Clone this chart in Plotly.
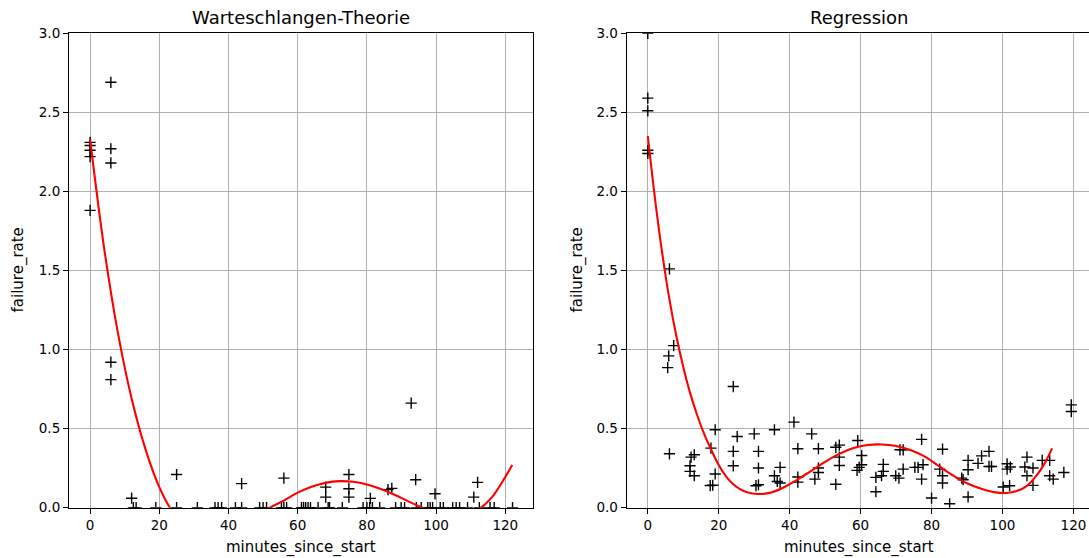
import plotly.graph_objects as go

# ---------------- data ----------------
wt_minutes = [0, 0, 0, 0, 0,
              6, 6, 6, 6, 6,
              12, 12.5, 13.3, 19, 25, 25, 31, 36.1, 37, 38, 42, 43.8, 43.8,
              49, 50, 51, 55.3, 56, 56, 56.8, 61.1, 61.7, 62.3, 63, 63.7, 65.9,
              68.1, 68.1, 68.8, 69.2, 72.9, 74.8, 74.8, 74.8, 78.9, 80, 80.8, 81, 81.6,
              83.7, 86.1, 87.2, 88.3, 89.9, 90.9, 92.8, 94.1, 94.3, 95.7, 97.6, 98.3, 99,
              99.7, 101.2, 102.1, 104.8, 105.8, 106.8, 109.1, 110.9, 112, 112.5, 115.6,
              116.8, 122.1]
wt_rate = [2.31, 2.29, 2.26, 2.22, 1.88,
           2.69, 2.27, 2.18, 0.92, 0.81,
           0.06, 0, 0, 0, 0.21, 0, 0, 0, 0, 0, 0, 0.152, 0,
           0, 0, 0, 0, 0.187, 0, 0, 0, 0, 0, 0, 0, 0,
           0.13, 0.067, 0, 0, 0, 0.21, 0.12, 0.067, 0, 0, 0, 0.059, 0,
           0, 0.114, 0.122, 0, 0, 0, 0.661, 0.177, 0, 0, 0, 0, 0,
           0.088, 0, 0, 0, 0, 0, 0, 0.067, 0.16, 0, 0,
           0, 0]

reg_minutes = [0, 0, 0, 0, 0,
               6.1, 5.6, 5.9, 7.3, 6.1,
               12.2, 13.1, 11.9, 11.9, 13.1,
               19.0, 17.8, 19.0, 17.6, 18.3,
               24.1, 25.2, 24.1, 24.1,
               30.0, 31.2, 31.2, 30.5, 31.2,
               35.7, 35.7, 37.3, 37.3, 36.5,
               41.2, 42.3, 42.3, 42.3,
               46.2, 48.1, 48.1, 48.1, 47.1,
               53.0, 54.0, 54.0, 54.0, 53.0,
               59.2, 60.3, 60.3, 59.6, 59.0,
               64.3, 64.3, 66.4, 66.4, 65.9,
               71.1, 72.0, 72.0, 69.9, 70.8,
               77.2, 75.3, 76.2, 77.6, 77.2,
               80.0, 83.1, 82.3, 83.1, 83.1, 85.1,
               88.5, 88.9, 90.3, 90.3, 90.3,
               93.1, 94.1, 96.2, 96.2, 96.9,
               100.2, 101.3, 101.3, 102.2, 102.0,
               106.9, 106.3, 106.9, 108.6, 108.6,
               111.2, 113.3, 113.3, 114.3, 117.3, 119.4, 119.4]
reg_rate = [3.0, 2.59, 2.51, 2.26, 2.24,
            1.51, 0.886, 0.96, 1.025, 0.341,
            0.32, 0.335, 0.265, 0.23, 0.202,
            0.493, 0.377, 0.213, 0.14, 0.142,
            0.766, 0.45, 0.356, 0.265,
            0.467, 0.356, 0.251, 0.139, 0.145,
            0.493, 0.202, 0.255, 0.156, 0.166,
            0.541, 0.373, 0.194, 0.162,
            0.467, 0.373, 0.251, 0.223, 0.181,
            0.382, 0.396, 0.32, 0.267, 0.148,
            0.425, 0.33, 0.272, 0.255, 0.236,
            0.192, 0.101, 0.274, 0.23, 0.202,
            0.366, 0.366, 0.244, 0.202, 0.187,
            0.432, 0.255, 0.255, 0.272, 0.181,
            0.061, 0.37, 0.244, 0.202, 0.156, 0.025,
            0.187, 0.177, 0.299, 0.24, 0.068,
            0.28, 0.328, 0.356, 0.261, 0.261,
            0.131, 0.278, 0.244, 0.257, 0.139,
            0.32, 0.257, 0.202, 0.251, 0.141,
            0.299, 0.299, 0.202, 0.181, 0.223, 0.65, 0.608]

# fitted curves
wt_curve_x = [0, 4, 8, 12, 16, 20, 24, 28, 32, 36, 40, 44, 48, 52, 56, 60, 64, 68,
              72, 76, 80, 84, 88, 92, 96, 100, 104, 108, 112, 116, 120, 122]
wt_curve_y = [2.33, 1.65, 1.11, 0.69, 0.37, 0.13, -0.03, -0.11, -0.155, -0.162, -0.142,
              -0.103, -0.054, 0.0, 0.045, 0.095, 0.132, 0.157, 0.168, 0.164, 0.147,
              0.118, 0.082, 0.040, 0.0, -0.034, -0.053, -0.050, -0.015, 0.062, 0.194, 0.27]

reg_curve_x = [0, 2, 4, 6, 8, 10, 12, 14, 16, 18, 20, 22, 24, 26, 28, 31, 34, 38, 42,
               46, 50, 54, 58, 62, 66, 70, 74, 78, 82, 86, 90, 94, 98, 101, 104, 107,
               110, 112, 114]
reg_curve_y = [2.35, 1.96, 1.62, 1.33, 1.09, 0.89, 0.72, 0.58, 0.46, 0.36, 0.27, 0.20,
               0.15, 0.118, 0.098, 0.087, 0.092, 0.125, 0.175, 0.232, 0.29, 0.34, 0.378,
               0.397, 0.40, 0.39, 0.365, 0.325, 0.265, 0.205, 0.155, 0.12, 0.097, 0.093,
               0.105, 0.14, 0.215, 0.285, 0.375]

titles = ["Warteschlangen-Theorie", "Regression"]
x_label = "minutes_since_start"
y_label = "failure_rate"
x_ticks = [0, 20, 40, 60, 80, 100, 120]
y_ticks = [0.0, 0.5, 1.0, 1.5, 2.0, 2.5, 3.0]

# ---------------- layout geometry (pixels) ----------------
W, H = 1089, 558
FONT = "DejaVu Sans"


def px_x(p):
    return p / W


def px_y(p):
    return 1 - p / H


fig = go.Figure()

marker = dict(symbol="cross-thin", size=8, line=dict(width=1.4, color="black"), color="black")

fig.add_trace(go.Scatter(x=wt_minutes, y=wt_rate, mode="markers", marker=marker,
                         xaxis="x", yaxis="y", showlegend=False, cliponaxis=True))
fig.add_trace(go.Scatter(x=wt_curve_x, y=wt_curve_y, mode="lines",
                         line=dict(color="#ff0000", width=2.1, shape="spline", smoothing=1.0),
                         xaxis="x", yaxis="y", showlegend=False))
fig.add_trace(go.Scatter(x=reg_minutes, y=reg_rate, mode="markers", marker=marker,
                         xaxis="x2", yaxis="y2", showlegend=False, cliponaxis=True))
fig.add_trace(go.Scatter(x=reg_curve_x, y=reg_curve_y, mode="lines",
                         line=dict(color="#ff0000", width=2.1, shape="spline", smoothing=1.0),
                         xaxis="x2", yaxis="y2", showlegend=False))

axis_common = dict(
    showgrid=True, gridcolor="#b0b0b0", gridwidth=1.1,
    zeroline=False, showline=True, linecolor="black", linewidth=1.1,
    ticks="outside", ticklen=5, tickwidth=1.1, tickcolor="black",
    tickfont=dict(family=FONT, size=13.5, color="black"),
    automargin=False,
)

y_dom = [px_y(507.7), px_y(33.3)]

fig.update_layout(
    template="none",
    width=W, height=H,
    margin=dict(l=0, r=0, t=0, b=0, pad=0, autoexpand=False),
    paper_bgcolor="white", plot_bgcolor="white",
    xaxis=dict(domain=[px_x(69), px_x(533.3)], range=[-6.1, 128.1], tickvals=x_ticks,
               anchor="y", mirror=True, **axis_common),
    yaxis=dict(domain=y_dom, range=[0, 3.0], tickvals=y_ticks, tickformat=".1f",
               anchor="x", mirror=True, **axis_common),
    xaxis2=dict(domain=[px_x(626.7), 1.0], range=[-5.95, 124.39], tickvals=x_ticks,
                anchor="y2", mirror=True, **axis_common),
    yaxis2=dict(domain=y_dom, range=[0, 3.0], tickvals=y_ticks, tickformat=".1f",
                anchor="x2", mirror=False, **axis_common),
)

annotations = []
centers = [(69 + 533.3) / 2, (626.7 + 1091) / 2]
ylab_x = [18, 577]
for i in range(2):
    annotations.append(dict(text=titles[i], x=px_x(centers[i]), y=px_y(18), xref="paper",
                            yref="paper", xanchor="center", yanchor="middle", showarrow=False,
                            font=dict(family=FONT, size=18, color="black")))
    annotations.append(dict(text=x_label, x=px_x(centers[i]), y=px_y(547), xref="paper",
                            yref="paper", xanchor="center", yanchor="middle", showarrow=False,
                            font=dict(family=FONT, size=15, color="black")))
    annotations.append(dict(text=y_label, x=px_x(ylab_x[i]), y=px_y(270.5), xref="paper",
                            yref="paper", xanchor="center", yanchor="middle", showarrow=False,
                            textangle=-90, font=dict(family=FONT, size=15, color="black")))
fig.update_layout(annotations=annotations)

fig.write_html(
    "out.html",
    config={"displayModeBar": False},
    post_script="document.body.style.margin='0px';document.body.style.overflow='hidden';",
)
